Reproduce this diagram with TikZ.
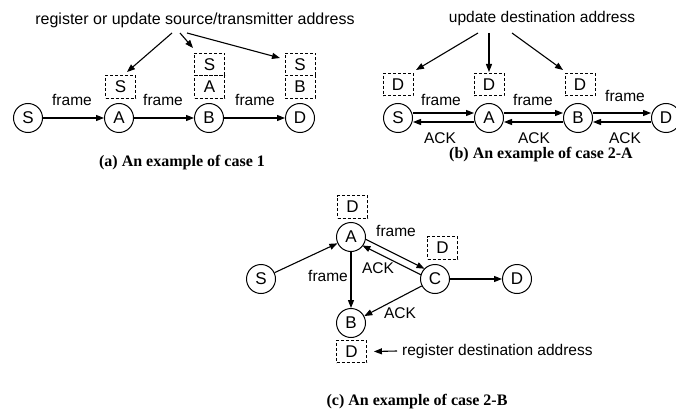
\documentclass[tikz,border=0pt]{standalone}
\usepackage{fontspec}
\setmainfont{Liberation Sans}
\newfontfamily\capfont{Liberation Serif}
\usetikzlibrary{arrows.meta,calc}
\begin{document}
\begin{tikzpicture}[x=1pt,y=-1pt,
 nd/.style={circle,draw,line width=1pt,minimum size=29pt,inner sep=0pt,font=\fontsize{17}{20}\selectfont},
 adr/.style={draw,dash pattern=on 3pt off 2pt,line width=0.9pt,minimum width=30pt,minimum height=22.5pt,inner sep=0pt,font=\fontsize{17}{20}\selectfont},
 lbl/.style={font=\fontsize{15.5}{18}\selectfont,inner sep=0pt},
 captxt/.style={font=\capfont\bfseries\fontsize{16}{19}\selectfont,inner sep=0pt},
 arr/.style={-{Triangle[length=8pt,width=6pt]},line width=1.1pt},
]
\useasboundingbox (0,0) rectangle (676,414);
% ---------- (a) ----------
\node[lbl,font=\fontsize{16}{19}\selectfont] (ta) at (195,20) {register or update source/transmitter address};
\node[nd] (aS) at (28,118) {S};
\node[nd] (aA) at (119,118) {A};
\node[nd] (aB) at (209,118) {B};
\node[nd] (aD) at (300,118) {D};
\node[adr] (aAb) at (120.5,86.75) {S};
\node[adr] (aBb1) at (209.5,64.25) {S};
\node[adr] (aBb2) at (209.5,86.75) {A};
\node[adr] (aDb1) at (300,64.25) {S};
\node[adr] (aDb2) at (300,86.75) {B};
\draw[arr] (aS) -- (aA);
\draw[arr] (aA) -- (aB);
\draw[arr] (aB) -- (aD);
\node[lbl] (af1) at (72,100) {frame};
\node[lbl] (af2) at (163,100) {frame};
\node[lbl] (af3) at (255,100) {frame};
\coordinate (ta1) at (172,33); \coordinate (te1) at (127,72);
\coordinate (ta2) at (180,33); \coordinate (te2) at (193,48);
\coordinate (ta3) at (187,33); \coordinate (te3) at (280,58);
\draw[arr] (ta1) -- (te1);
\draw[arr] (ta2) -- (te2);
\draw[arr] (ta3) -- (te3);
\node[captxt] (capa) at (182,163) {(a) An example of case 1};
% ---------- (b) ----------
\node[lbl] (tb) at (542,18) {update destination address};
\node[nd] (bS) at (398,118) {S};
\node[nd] (bA) at (489,118) {A};
\node[nd] (bB) at (578,118) {B};
\node[nd] (bD) at (666,118) {D};
\node[adr] (bSb) at (398,84.5) {D};
\node[adr] (bAb) at (489,84.5) {D};
\node[adr] (bBb) at (580,84.5) {D};
\foreach \p/\q in {bS/bA,bA/bB,bB/bD}{
  \draw[arr] ([yshift=5pt]\p.east) -- ([yshift=5pt]\q.west);
  \draw[arr] ([yshift=-4pt]\q.west) -- ([yshift=-4pt]\p.east);
}
\node[lbl] (bf1) at (441,100) {frame};
\node[lbl] (bf2) at (533,100) {frame};
\node[lbl] (bf3) at (625,96) {frame};
\node[lbl] (bk1) at (440,138) {ACK};
\node[lbl] (bk2) at (534,138) {ACK};
\node[lbl] (bk3) at (625,138) {ACK};
\coordinate (tb1) at (478,33); \coordinate (tf1) at (416,70);
\coordinate (tb2) at (489,33); \coordinate (tf2) at (489,72);
\coordinate (tb3) at (512,33); \coordinate (tf3) at (563,70);
\draw[arr] (tb1) -- (tf1);
\draw[arr] (tb2) -- (tf2);
\draw[arr] (tb3) -- (tf3);
\node[captxt] (capb) at (541,155) {(b) An example of case 2-A};
% ---------- (c) ----------
\node[nd] (cA) at (351,237) {A};
\node[nd] (cS) at (261,279) {S};
\node[nd] (cC) at (435,279) {C};
\node[nd] (cB) at (351,323) {B};
\node[nd] (cD) at (517,279) {D};
\node[adr] (cAb) at (352.5,207) {D};
\node[adr] (cCb) at (442.5,248) {D};
\node[adr] (cBb) at (351.5,351.5) {D};
\draw[arr] (cS) -- (cA);
\draw[arr,shorten <=14pt,shorten >=14pt] ($(cA.center)!4.5pt!90:(cC.center)$) -- ($(cC.center)!4.5pt!-90:(cA.center)$);
\draw[arr,shorten <=14pt,shorten >=14pt] ($(cC.center)!2.5pt!90:(cA.center)$) -- ($(cA.center)!2.5pt!-90:(cC.center)$);
\draw[arr] (cA) -- (cB);
\draw[arr] (cC) -- (cB);
\draw[arr] (cC) -- (cD);
\node[lbl] (cf1) at (396,231) {frame};
\node[lbl] (ck1) at (378,268) {ACK};
\node[lbl] (cf2) at (328,276) {frame};
\node[lbl] (ck2) at (400,313) {ACK};
\node[lbl,anchor=west] (rt) at (402,351) {register destination address};
\draw[arr] ([xshift=-5pt]rt.west) -- ([xshift=7pt]cBb.east);
\node[captxt] (capc) at (417,402) {(c) An example of case 2-B};
\end{tikzpicture}
\end{document}
